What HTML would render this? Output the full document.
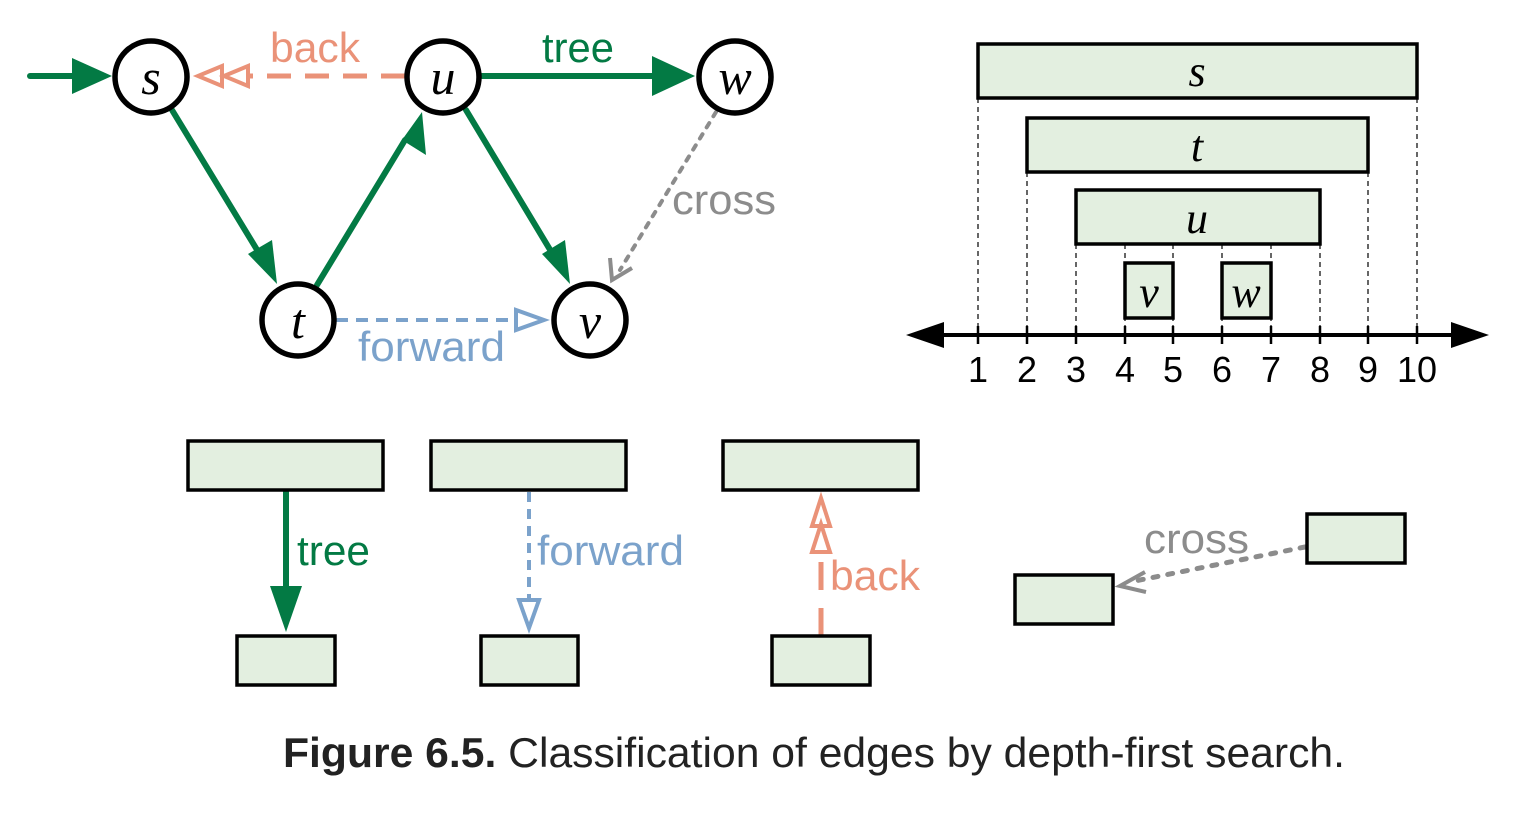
<!DOCTYPE html>
<html><head><style>body{margin:0;background:#fff}svg{display:block}</style></head><body>
<svg width="1524" height="816" viewBox="0 0 1524 816" xmlns="http://www.w3.org/2000/svg" font-family="Liberation Sans, sans-serif">
<g stroke="#037a44" stroke-width="6" fill="none" stroke-linecap="round">
<line x1="30" y1="76" x2="80" y2="76"/>
<line x1="482" y1="76" x2="655" y2="76"/>
<line x1="172" y1="110" x2="262" y2="258"/>
<line x1="317" y1="285" x2="405" y2="140"/>
<line x1="466" y1="110" x2="555" y2="258"/>
</g>
<g fill="#037a44">
<polygon points="112,76 72,58 72,94"/>
<polygon points="695,76 652,56 652,96"/>
<polygon points="277,284 248,254 272,240"/>
<polygon points="422,112 426,155 402,140 "/>
<polygon points="570,284 542,254 565,240"/>
</g>
<line x1="405" y1="76" x2="250" y2="76" stroke="#ea9278" stroke-width="5" stroke-dasharray="24,14"/>
<polygon points="198,76 222,66 222,86" fill="none" stroke="#ea9278" stroke-width="4"/>
<polygon points="224,76 248,66 248,86" fill="none" stroke="#ea9278" stroke-width="4"/>
<text x="270" y="62" font-size="42" fill="#ea9278" textLength="90" lengthAdjust="spacingAndGlyphs">back</text>
<text x="542" y="62" font-size="42" fill="#037a44" textLength="72" lengthAdjust="spacingAndGlyphs">tree</text>
<line x1="716" y1="112" x2="620" y2="270" stroke="#8c8c8c" stroke-width="4" stroke-dasharray="5,8" stroke-linecap="round"/>
<polyline points="610,258 612,280 632,268" fill="none" stroke="#8c8c8c" stroke-width="4"/>
<text x="672" y="214" font-size="42" fill="#8c8c8c" textLength="104" lengthAdjust="spacingAndGlyphs">cross</text>
<line x1="336" y1="320" x2="515" y2="320" stroke="#7ba2cb" stroke-width="4" stroke-dasharray="12,8"/>
<polygon points="544,320 516,310 516,330" fill="none" stroke="#7ba2cb" stroke-width="4"/>
<text x="358" y="361" font-size="42" fill="#7ba2cb" textLength="147" lengthAdjust="spacingAndGlyphs">forward</text>
<g fill="#fff" stroke="#000" stroke-width="5.5">
<circle cx="151" cy="77" r="36"/><circle cx="443" cy="77" r="36"/><circle cx="735" cy="77" r="36"/>
<circle cx="298" cy="320" r="36"/><circle cx="590" cy="320" r="36"/>
</g>
<g font-family="Liberation Serif, serif" font-style="italic" font-size="50" text-anchor="middle">
<text x="151" y="94">s</text><text x="443" y="94">u</text><text x="735" y="94">w</text>
<text x="298" y="338">t</text><text x="590" y="338">v</text>
</g>
<g stroke="#000" stroke-width="1.2" stroke-dasharray="5,4">
<line x1="978" y1="98" x2="978" y2="335"/><line x1="1027" y1="172" x2="1027" y2="335"/><line x1="1076" y1="244" x2="1076" y2="335"/>
<line x1="1125" y1="244" x2="1125" y2="335"/><line x1="1173" y1="244" x2="1173" y2="335"/><line x1="1222" y1="244" x2="1222" y2="335"/>
<line x1="1271" y1="244" x2="1271" y2="335"/><line x1="1320" y1="244" x2="1320" y2="335"/><line x1="1368" y1="172" x2="1368" y2="335"/><line x1="1417" y1="98" x2="1417" y2="335"/>
</g>
<g fill="#e3efe0" stroke="#000" stroke-width="3.5">
<rect x="978" y="44" width="439" height="54"/>
<rect x="1027" y="118" width="341" height="54"/>
<rect x="1076" y="190" width="244" height="54"/>
<rect x="1125" y="263" width="48" height="55"/>
<rect x="1222" y="263" width="49" height="55"/>
</g>
<g font-family="Liberation Serif, serif" font-style="italic" font-size="44" text-anchor="middle">
<text x="1197" y="86">s</text><text x="1197" y="161">t</text><text x="1197" y="233">u</text>
<text x="1149" y="307">v</text><text x="1246" y="307">w</text>
</g>
<line x1="930" y1="335" x2="1465" y2="335" stroke="#000" stroke-width="4"/>
<polygon points="906,335 944,322 944,348" fill="#000"/>
<polygon points="1489,335 1451,322 1451,348" fill="#000"/>
<g stroke="#000" stroke-width="2.5"><line x1="978" y1="326" x2="978" y2="344"/><line x1="1027" y1="326" x2="1027" y2="344"/><line x1="1076" y1="326" x2="1076" y2="344"/><line x1="1125" y1="326" x2="1125" y2="344"/><line x1="1173" y1="326" x2="1173" y2="344"/><line x1="1222" y1="326" x2="1222" y2="344"/><line x1="1271" y1="326" x2="1271" y2="344"/><line x1="1320" y1="326" x2="1320" y2="344"/><line x1="1368" y1="326" x2="1368" y2="344"/><line x1="1417" y1="326" x2="1417" y2="344"/></g>
<g font-size="36" text-anchor="middle">
<text x="978" y="382">1</text><text x="1027" y="382">2</text><text x="1076" y="382">3</text><text x="1125" y="382">4</text><text x="1173" y="382">5</text><text x="1222" y="382">6</text><text x="1271" y="382">7</text><text x="1320" y="382">8</text><text x="1368" y="382">9</text><text x="1417" y="382">10</text>
</g>
<line x1="286" y1="490" x2="286" y2="590" stroke="#037a44" stroke-width="6"/>
<polygon points="286,632 270,586 302,586" fill="#037a44"/>
<text x="297" y="565" font-size="42" fill="#037a44" textLength="73" lengthAdjust="spacingAndGlyphs">tree</text>
<line x1="529" y1="492" x2="529" y2="598" stroke="#7ba2cb" stroke-width="4" stroke-dasharray="10,7"/>
<polygon points="529,628 519,600 539,600" fill="none" stroke="#7ba2cb" stroke-width="4"/>
<text x="537" y="565" font-size="42" fill="#7ba2cb" textLength="147" lengthAdjust="spacingAndGlyphs">forward</text>
<line x1="821" y1="636" x2="821" y2="556" stroke="#ea9278" stroke-width="5" stroke-dasharray="28,18"/>
<polygon points="821,524 812,552 830,552" fill="none" stroke="#ea9278" stroke-width="4"/>
<polygon points="821,498 812,526 830,526" fill="none" stroke="#ea9278" stroke-width="4"/>
<text x="830" y="590" font-size="42" fill="#ea9278" textLength="90" lengthAdjust="spacingAndGlyphs">back</text>
<line x1="1305" y1="547" x2="1130" y2="582" stroke="#8c8c8c" stroke-width="5" stroke-dasharray="5,10" stroke-linecap="round"/>
<polyline points="1145,572 1120,586 1146,592" fill="none" stroke="#8c8c8c" stroke-width="4"/>
<text x="1144" y="553" font-size="42" fill="#8c8c8c" textLength="105" lengthAdjust="spacingAndGlyphs">cross</text>
<g fill="#e3efe0" stroke="#000" stroke-width="3.5">
<rect x="188" y="441" width="195" height="49"/><rect x="431" y="441" width="195" height="49"/><rect x="723" y="441" width="195" height="49"/>
<rect x="237" y="636" width="98" height="49"/><rect x="481" y="636" width="97" height="49"/><rect x="772" y="636" width="98" height="49"/>
<rect x="1015" y="575" width="98" height="49"/><rect x="1307" y="514" width="98" height="49"/>
</g>
<text x="283" y="767" font-size="42" fill="#222" textLength="1062" lengthAdjust="spacingAndGlyphs"><tspan font-weight="bold">Figure 6.5.</tspan> Classification of edges by depth-first search.</text>
</svg>
</body></html>
